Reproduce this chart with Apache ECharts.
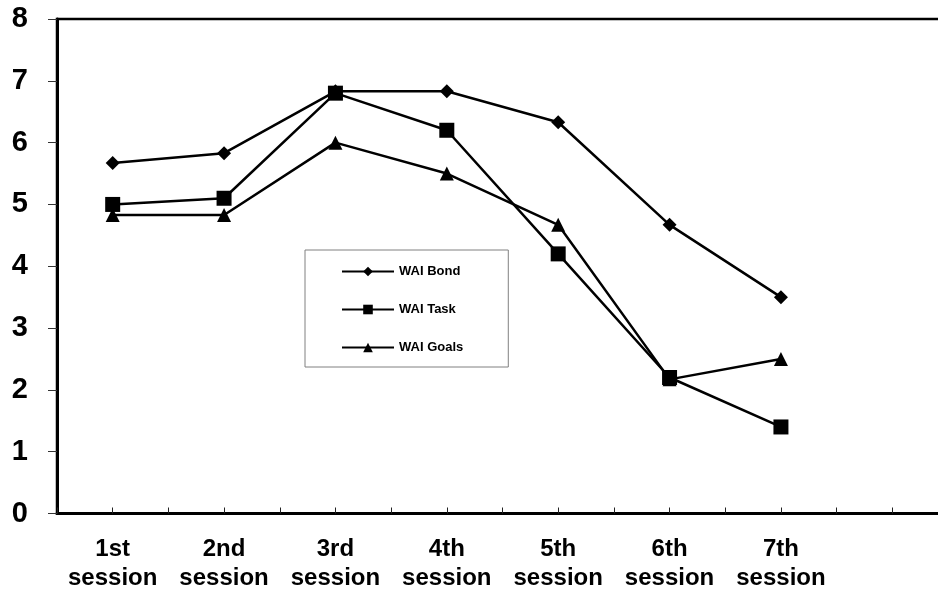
<!DOCTYPE html>
<html>
<head>
<meta charset="utf-8">
<script src="https://cdn.jsdelivr.net/npm/echarts@6/dist/echarts.min.js"></script>
<style>html,body{margin:0;padding:0;background:#fff}#c{width:938px;height:592px}</style>
</head>
<body>
<div id="c"></div>
<script>
var categories = ['1st\nsession', '2nd\nsession', '3rd\nsession', '4th\nsession', '5th\nsession', '6th\nsession', '7th\nsession'];
var bond = [5.67, 5.83, 6.83, 6.83, 6.33, 4.67, 3.5];
var task = [5.0, 5.1, 6.8, 6.2, 4.2, 2.2, 1.4];
var goals = [4.83, 4.83, 6.0, 5.5, 4.67, 2.17, 2.5];
var yTicks = [0, 1, 2, 3, 4, 5, 6, 7, 8];

function pts(arr) { return arr.map(function (v, i) { return [i + 0.5, v]; }); }
var font = "'Liberation Sans', Arial, sans-serif";
function mk(name, data, symbol, size) {
  return {
    name: name, type: 'line', data: pts(data), symbol: symbol, symbolSize: size,
    lineStyle: { color: '#000', width: 2.5 }, itemStyle: { color: '#000' },
    emphasis: { disabled: true }, animation: false, z: 3, clip: false
  };
}
var chart = echarts.init(document.getElementById('c'));
chart.setOption({
  backgroundColor: '#fff',
  animation: false,
  grid: { left: 57, width: 891, top: 19, bottom: 78.5, outerBoundsMode: 'none', containLabel: false,
          show: true, borderColor: '#000', borderWidth: 2.5, backgroundColor: 'transparent' },
  xAxis: {
    type: 'value', min: 0, max: 8, interval: 0.5,
    axisLine: { lineStyle: { color: '#000', width: 3 } },
    axisTick: { inside: true, length: 6, lineStyle: { color: '#222', width: 1 } },
    splitLine: { show: false },
    axisLabel: {
      margin: 21, color: '#000', fontFamily: font, fontWeight: 'bold', fontSize: 24, lineHeight: 29,
      showMinLabel: true, showMaxLabel: true,
      formatter: function (v) {
        var i = Math.floor(v);
        if (Math.abs(v - i - 0.5) < 1e-6 && i < categories.length) return categories[i];
        return '';
      }
    }
  },
  yAxis: {
    type: 'value', min: yTicks[0], max: yTicks[yTicks.length - 1], interval: 1,
    axisLine: { show: true, lineStyle: { color: '#000', width: 3 } },
    axisTick: { show: true, length: 9, lineStyle: { color: '#333', width: 1 } },
    splitLine: { show: false },
    axisLabel: { margin: 29, color: '#000', fontFamily: font, fontWeight: 'bold', fontSize: 29 }
  },
  legend: {
    orient: 'vertical', left: 305, top: 250,
    padding: [15, 45, 13, 36],
    itemWidth: 52, itemHeight: 12, itemGap: 25,
    borderColor: '#808080', borderWidth: 1, backgroundColor: '#fff',
    textStyle: { color: '#000', fontFamily: font, fontWeight: 'bold', fontSize: 13 },
    data: ['WAI Bond', 'WAI Task', 'WAI Goals'],
    selectedMode: false
  },
  series: [
    mk('WAI Bond', bond, 'diamond', 14),
    mk('WAI Task', task, 'rect', 15),
    mk('WAI Goals', goals, 'triangle', 14)
  ]
});
</script>
</body>
</html>
